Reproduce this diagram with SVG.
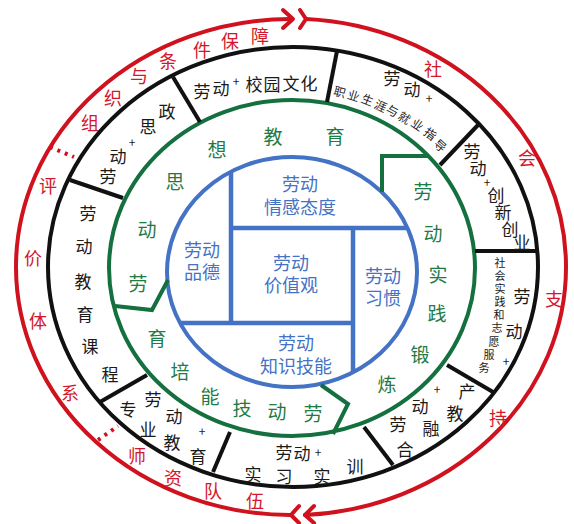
<svg xmlns="http://www.w3.org/2000/svg" width="574" height="524" viewBox="0 0 574 524">
<style>
text{font-family:"Noto Sans CJK SC","Noto Sans CJK JP",sans-serif;text-anchor:middle;dominant-baseline:central}
.r{fill:#d3182b;font-size:18px}
.k{fill:#1a1a1a;font-size:17px}
.ks{fill:#1a1a1a;font-size:12px}
.kc{fill:#1a1a1a;font-size:11px}
.p{fill:#1a1a1a;font-size:12px}
.g{fill:#1e7b45;font-size:19px}
.b{fill:#4472c4;font-size:18px}
.ring{fill:none;stroke-width:4}
.div{stroke:#111;stroke-width:4;fill:none}
.gl{stroke:#14703e;stroke-width:4;fill:none;stroke-linejoin:miter}
</style>
<rect width="574" height="524" fill="#fff"/>

<g id="connectors" fill="none" stroke="#d0111e" stroke-width="4" stroke-linecap="round" stroke-linejoin="round">
  <path d="M 290 515 A 275 248 0 0 1 16 267 A 275 248 0 0 1 292 19"/>
  <polyline points="283,10 293,19 283,28"/>
  <polyline points="300,10 306,19 300,28"/>
  <path d="M 306 19 A 275 248 0 0 1 566 267 A 275 248 0 0 1 305 515"/>
  <polyline points="314,506 305,515 314,523"/>
  <polyline points="299,506 291,515 299,523"/>
  <line x1="50" y1="147" x2="74" y2="157" stroke-dasharray="3 5" stroke-linecap="butt"/>
  <line x1="98" y1="440" x2="118" y2="426" stroke-dasharray="3 5" stroke-linecap="butt"/>
</g>

<g id="outer-labels">
  <text class="r" x="90" y="122">组</text>
  <text class="r" x="113" y="97">织</text>
  <text class="r" x="139" y="75">与</text>
  <text class="r" x="168" y="60">条</text>
  <text class="r" x="202" y="49">件</text>
  <text class="r" x="230" y="40">保</text>
  <text class="r" x="260" y="35">障</text>
  <text class="r" x="433" y="68">社</text>
  <text class="r" x="527" y="157">会</text>
  <text class="r" x="554" y="298">支</text>
  <text class="r" x="498" y="417">持</text>
  <text class="r" x="48" y="185">评</text>
  <text class="r" x="33" y="257">价</text>
  <text class="r" x="38" y="320">体</text>
  <text class="r" x="70" y="392">系</text>
  <text class="r" x="137" y="455">师</text>
  <text class="r" x="173" y="477">资</text>
  <text class="r" x="213" y="490">队</text>
  <text class="r" x="255" y="500">伍</text>
</g>

<g id="rings">
  <ellipse class="ring" cx="293" cy="267" rx="245" ry="220" stroke="#111"/>
  <ellipse class="ring" cx="292" cy="268" rx="183" ry="168" stroke="#14703e"/>
  <ellipse class="ring" cx="292" cy="272" rx="125" ry="115" stroke="#4472c4" stroke-width="4.5"/>
</g>

<g id="dividers">
  <line class="div" x1="173" y1="77" x2="200" y2="122"/>
  <line class="div" x1="337" y1="51" x2="327" y2="102"/>
  <line class="div" x1="478" y1="125" x2="440" y2="165"/>
  <line class="div" x1="475" y1="251" x2="538" y2="251"/>
  <line class="div" x1="447" y1="365" x2="493" y2="392"/>
  <line class="div" x1="364" y1="427" x2="393" y2="465"/>
  <line class="div" x1="230" y1="432" x2="213" y2="472"/>
  <line class="div" x1="147" y1="375" x2="100" y2="402"/>
  <line class="div" x1="123" y1="198" x2="70" y2="180"/>
  <polyline class="gl" points="382,192 382,156 428,156"/>
  <polyline class="gl" points="115,306 152,310 168,280"/>
  <polyline class="gl" points="321,385 348,404 333,434"/>
</g>

<g id="seg-campus">
  <text class="k" x="202" y="90">劳</text>
  <text class="k" x="221" y="87">动</text>
  <text class="p" x="236" y="80">+</text>
  <text class="k" x="254" y="83">校</text>
  <text class="k" x="272" y="83">园</text>
  <text class="k" x="291" y="82">文</text>
  <text class="k" x="309" y="82">化</text>
</g>
<g id="seg-career">
  <text class="k" x="392" y="77">劳</text>
  <text class="k" x="412" y="88">动</text>
  <text class="p" x="429" y="97">+</text>
  <text class="ks" x="340" y="91" transform="rotate(15 340 91)">职</text>
  <text class="ks" x="354" y="95" transform="rotate(18 354 95)">业</text>
  <text class="ks" x="368" y="99" transform="rotate(22 368 99)">生</text>
  <text class="ks" x="381" y="105" transform="rotate(25 381 105)">涯</text>
  <text class="ks" x="393" y="110" transform="rotate(28 393 110)">与</text>
  <text class="ks" x="405" y="117" transform="rotate(32 405 117)">就</text>
  <text class="ks" x="418" y="124" transform="rotate(35 418 124)">业</text>
  <text class="ks" x="431" y="133" transform="rotate(38 431 133)">指</text>
  <text class="ks" x="441" y="145" transform="rotate(42 441 145)">导</text>
</g>
<g id="seg-innovation">
  <text class="k" x="472" y="150">劳</text>
  <text class="k" x="478" y="167">动</text>
  <text class="p" x="487" y="181">+</text>
  <text class="k" x="496" y="194">创</text>
  <text class="k" x="503" y="211">新</text>
  <text class="k" x="510" y="228">创</text>
  <text class="k" x="522" y="241">业</text>
</g>
<g id="seg-social">
  <text class="kc" x="500" y="262">社</text>
  <text class="kc" x="500" y="275">会</text>
  <text class="kc" x="500" y="288">实</text>
  <text class="kc" x="500" y="301">践</text>
  <text class="kc" x="499" y="314">和</text>
  <text class="kc" x="497" y="327">志</text>
  <text class="kc" x="494" y="341">愿</text>
  <text class="kc" x="489" y="354">服</text>
  <text class="kc" x="484" y="367">务</text>
  <text class="k" x="522" y="295">劳</text>
  <text class="k" x="514" y="330">动</text>
  <text class="p" x="506" y="360">+</text>
</g>
<g id="seg-industry">
  <text class="k" x="398" y="423">劳</text>
  <text class="k" x="420" y="405">动</text>
  <text class="p" x="437" y="388">+</text>
  <text class="k" x="467" y="390">产</text>
  <text class="k" x="455" y="412">教</text>
  <text class="k" x="431" y="427">融</text>
  <text class="k" x="405" y="448">合</text>
</g>
<g id="seg-internship">
  <text class="k" x="284" y="451">劳</text>
  <text class="k" x="302" y="452">动</text>
  <text class="p" x="318" y="451">+</text>
  <text class="k" x="253" y="473">实</text>
  <text class="k" x="284" y="475">习</text>
  <text class="k" x="322" y="475">实</text>
  <text class="k" x="355" y="465">训</text>
</g>
<g id="seg-professional">
  <text class="k" x="153" y="398">劳</text>
  <text class="k" x="174" y="415">动</text>
  <text class="p" x="202" y="430">+</text>
  <text class="k" x="128" y="408">专</text>
  <text class="k" x="148" y="428">业</text>
  <text class="k" x="172" y="441">教</text>
  <text class="k" x="198" y="455">育</text>
</g>
<g id="seg-course">
  <text class="k" x="88" y="212">劳</text>
  <text class="k" x="84" y="245">动</text>
  <text class="k" x="83" y="280">教</text>
  <text class="k" x="85" y="313">育</text>
  <text class="k" x="90" y="345">课</text>
  <text class="k" x="110" y="373">程</text>
</g>
<g id="seg-politics">
  <text class="k" x="108" y="175">劳</text>
  <text class="k" x="118" y="155">动</text>
  <text class="p" x="132" y="141">+</text>
  <text class="k" x="148" y="125">思</text>
  <text class="k" x="167" y="110">政</text>
</g>

<g id="green-ideology">
  <text class="g" x="138" y="282">劳</text>
  <text class="g" x="147" y="228">动</text>
  <text class="g" x="175" y="180">思</text>
  <text class="g" x="217" y="148">想</text>
  <text class="g" x="273" y="135">教</text>
  <text class="g" x="335" y="135">育</text>
</g>
<g id="green-practice">
  <text class="g" x="423" y="190">劳</text>
  <text class="g" x="433" y="232">动</text>
  <text class="g" x="438" y="273">实</text>
  <text class="g" x="437" y="312">践</text>
  <text class="g" x="420" y="353">锻</text>
  <text class="g" x="387" y="383">炼</text>
</g>
<g id="green-skills">
  <text class="g" x="313" y="412">劳</text>
  <text class="g" x="277" y="410">动</text>
  <text class="g" x="242" y="407">技</text>
  <text class="g" x="210" y="395">能</text>
  <text class="g" x="180" y="370">培</text>
  <text class="g" x="157" y="337">育</text>
</g>

<g id="core" stroke="#4472c4" stroke-width="4.5" fill="none">
  <line x1="231" y1="172" x2="231" y2="323"/>
  <line x1="231" y1="228" x2="408" y2="228"/>
  <line x1="353" y1="228" x2="353" y2="373"/>
  <line x1="180" y1="323" x2="353" y2="323"/>
</g>
<g id="core-emotion"><text class="b" x="300" y="183">劳动</text><text class="b" x="300" y="206">情感态度</text></g>
<g id="core-morality"><text class="b" x="202" y="249">劳动</text><text class="b" x="202" y="271">品德</text></g>
<g id="core-values"><text class="b" x="291" y="262">劳动</text><text class="b" x="291" y="284">价值观</text></g>
<g id="core-habits"><text class="b" x="383" y="275">劳动</text><text class="b" x="383" y="297">习惯</text></g>
<g id="core-knowledge"><text class="b" x="296" y="342">劳动</text><text class="b" x="296" y="365">知识技能</text></g>
</svg>
